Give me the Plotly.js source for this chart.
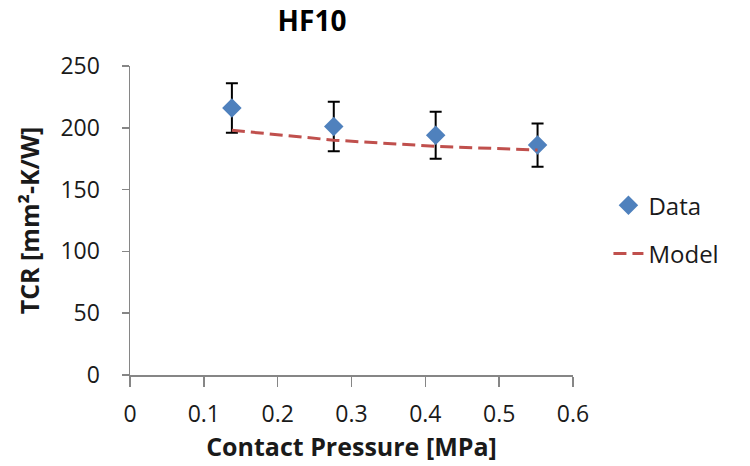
<!DOCTYPE html>
<html>
<head>
<meta charset="utf-8">
<script src="https://cdn.plot.ly/plotly-3.0.1.min.js"></script>
<style>html,body{margin:0;padding:0;background:#fff;}#chart{width:750px;height:466px;}</style>
</head>
<body>
<div id="chart"></div>
<script>
const pressure = [0.138, 0.276, 0.414, 0.552];
const tcrData = [216, 201, 194, 186];
const tcrError = [20, 20, 19, 17.5];
const tcrModel = [198, 190, 185, 182];

const fontFam = 'Open Sans, Liberation Sans, sans-serif';

const traces = [
  {
    x: pressure, y: tcrData, name: 'Data', type: 'scatter', mode: 'markers', legendgroup: 'a',
    marker: {symbol: 'diamond', size: 15, color: '#4F81BD'},
    error_y: {type: 'data', array: tcrError, visible: true, color: '#000000', thickness: 2, width: 6}
  },
  {
    x: pressure, y: tcrModel, name: 'Model', type: 'scatter', mode: 'lines', legendgroup: 'b',
    line: {color: '#C0504D', width: 3, dash: '13px,6px'}
  }
];

const layout = {
  width: 750, height: 466,
  paper_bgcolor: '#ffffff', plot_bgcolor: '#ffffff',
  margin: {l: 130, r: 177, t: 66, b: 91},
  font: {family: fontFam, color: '#1a1a1a', size: 22},
  title: {text: '<b>HF10</b>', font: {family: fontFam, size: 28, color: '#000'}, x: 0.416, xanchor: 'center', y: 0.955, yanchor: 'middle'},
  xaxis: {
    range: [0, 0.6], dtick: 0.1, tick0: 0, showgrid: false, zeroline: false,
    showline: true, linecolor: '#868686', linewidth: 1.5,
    ticks: 'outside', ticklen: 10, tickcolor: '#868686', tickwidth: 1.5, ticklabelstandoff: 8,
    tickfont: {size: 23, family: fontFam, color: '#1a1a1a'},
    title: {text: '<b>Contact Pressure [MPa]</b>', font: {size: 25, family: fontFam, color: '#1a1a1a'}, standoff: 7}
  },
  yaxis: {
    range: [0, 250], dtick: 50, tick0: 0, showgrid: false, zeroline: false,
    showline: true, linecolor: '#868686', linewidth: 1.5,
    ticks: 'outside', ticklen: 7, tickcolor: '#868686', tickwidth: 1.5, ticklabelstandoff: 17,
    tickfont: {size: 23, family: fontFam, color: '#1a1a1a'},
    title: {text: '<b>TCR [mm²-K/W]</b>', font: {size: 25, family: fontFam, color: '#1a1a1a'}, standoff: 13}
  },
  showlegend: true,
  legend: {x: 1.08, y: 0.47, xanchor: 'left', yanchor: 'middle', font: {size: 24, family: fontFam, color: '#1a1a1a'}, tracegroupgap: 14, itemwidth: 30, bgcolor: 'rgba(0,0,0,0)'}
};

Plotly.newPlot('chart', traces, layout, {displayModeBar: false, staticPlot: true});
</script>
</body>
</html>
